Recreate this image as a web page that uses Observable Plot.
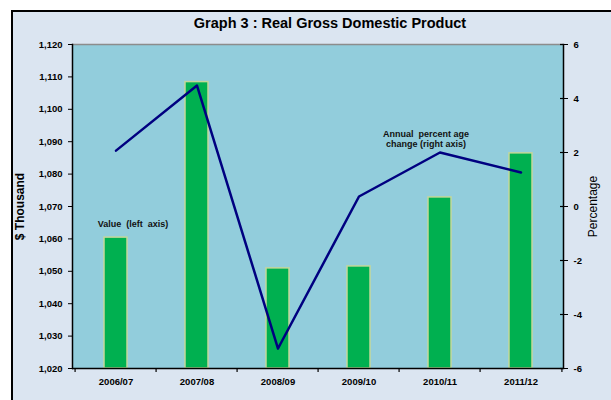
<!DOCTYPE html>
<html>
<head>
<meta charset="utf-8">
<script src="https://cdn.jsdelivr.net/npm/d3@7"></script>
<script src="https://cdn.jsdelivr.net/npm/@observablehq/plot@0.6"></script>
<style>
  html, body { margin: 0; padding: 0; background: #ffffff; }
  #wrap { position: relative; width: 611px; height: 400px; overflow: hidden; }
  #frame { position: absolute; left: 11px; top: 10px; width: 640px; height: 420px;
           border-left: 2px solid #000; border-top: 2px solid #000; background: #dbe5f1; }
  #chart { position: absolute; left: 0; top: 0; }
  #chart svg { background: transparent; }
  #chart text.title { letter-spacing: 0.9px; word-spacing: 2px; }
</style>
</head>
<body>
<div id="wrap"><div id="frame"></div><div id="chart"></div></div>
<script>
const years = ["2006/07", "2007/08", "2008/09", "2009/10", "2010/11", "2011/12"];
const values = [1060.4, 1108.4, 1050.9, 1051.5, 1072.8, 1086.4];
const pctChange = [2.07, 4.48, -5.26, 0.37, 2.0, 1.26];
const leftTicks = [1020, 1030, 1040, 1050, 1060, 1070, 1080, 1090, 1100, 1110, 1120];
const rightTicks = [-6, -4, -2, 0, 2, 4, 6];
const leftDomain = [1020, 1120];
const rightDomain = [-6, 6];

const W = 611, H = 400, ML = 72, MR = 48, MT = 44, MB = 32;
const halfStep = (W - ML - MR) / years.length / 2;

// map right-axis (percentage) values into left-axis units
const toLeft = v => leftDomain[0] + (v - rightDomain[0]) * (leftDomain[1] - leftDomain[0]) / (rightDomain[1] - rightDomain[0]);
const fromLeft = v => rightDomain[0] + (v - leftDomain[0]) * (rightDomain[1] - rightDomain[0]) / (leftDomain[1] - leftDomain[0]);

const barData = years.map((y, i) => ({year: y, value: values[i]}));
const lineData = years.map((y, i) => ({year: y, pct: toLeft(pctChange[i])}));

const font = "Arial, 'Liberation Sans', sans-serif";
const fmt = d3.format(",");
const tickLen = (leftDomain[1] - leftDomain[0]) / (H - MT - MB) * 4;

const chart = Plot.plot({
  width: W,
  height: H,
  marginLeft: ML,
  marginRight: MR,
  marginTop: MT,
  marginBottom: MB,
  style: {fontFamily: font, fontSize: "9px", fontWeight: "bold", color: "#000", background: "transparent"},
  x: {domain: years, paddingInner: 0.72, paddingOuter: 0.36, label: null},
  y: {domain: leftDomain, label: null},
  marks: [
    Plot.frame({fill: "#92cddc", stroke: null}),
    Plot.ruleY([leftDomain[1]], {stroke: "#8c8c8c", strokeWidth: 1.5}),
    Plot.barY(barData, {x: "year", y1: leftDomain[0], y2: "value", fill: "#00b050", stroke: "#c4d79b", strokeWidth: 1.5}),
    Plot.line(lineData, {x: "year", y: "pct", stroke: "#000080", strokeWidth: 2.5}),
    Plot.axisY(leftTicks, {anchor: "left", tickFormat: fmt, tickSize: 4, tickPadding: 6, stroke: "#000", fontWeight: "bold", fontSize: 9.5, label: null}),
    Plot.axisY(rightTicks.map(toLeft), {anchor: "right", tickFormat: d => String(Math.round(fromLeft(d))), tickSize: 4, tickPadding: 6, stroke: "#000", fontWeight: "bold", fontSize: 9.5, label: null}),
    // inner half of the crossing ticks on the right axis
    Plot.tickY(rightTicks.map(toLeft), {y: d => d, insetLeft: W - ML - MR - 3, stroke: "#000", strokeWidth: 1.2}),
    Plot.axisX({anchor: "bottom", tickSize: 0, tickPadding: 10, fontWeight: "bold", fontSize: 9.5, label: null}),
    // category boundary ticks on the x axis
    Plot.ruleX(years, {x: d => d, y1: leftDomain[0], y2: leftDomain[0] - tickLen, dx: -halfStep, stroke: "#000", strokeWidth: 1.2, clip: false}),
    Plot.ruleX([years[years.length - 1]], {x: d => d, y1: leftDomain[0], y2: leftDomain[0] - tickLen, dx: halfStep, stroke: "#000", strokeWidth: 1.2, clip: false}),
    // frame edges: left, right, bottom axis lines
    Plot.ruleY([leftDomain[0]], {stroke: "#000", strokeWidth: 1.5}),
    Plot.frame({anchor: "left", stroke: "#000", strokeWidth: 1.5}),
    Plot.frame({anchor: "right", stroke: "#000", strokeWidth: 1.5}),
    // title
    Plot.text(["Graph 3 : Real Gross Domestic Product"], {frameAnchor: "top", dy: -27, dx: 12, fontSize: 14.5, fontWeight: "bold", fill: "#000", className: "title"}),
    // annotations
    Plot.text(["Value  (left  axis)"], {x: () => years[0], y: () => 1064.5, dx: 17, fontSize: 9, fontWeight: "bold", fill: "#111"}),
    Plot.text(["Annual  percent age\nchange (right axis)"], {x: () => years[4], y: () => toLeft(2.52), dx: -14, fontSize: 9, fontWeight: "bold", fill: "#111", lineHeight: 1.2}),
    // axis titles
    Plot.text(["$ Thousand"], {frameAnchor: "left", dx: -52, rotate: -90, textAnchor: "middle", fontSize: 12, fontWeight: "bold", fill: "#000"}),
    Plot.text(["Percentage"], {frameAnchor: "right", dx: 30, rotate: -90, textAnchor: "middle", fontSize: 12, fontWeight: "normal", fill: "#000"})
  ]
});
document.getElementById("chart").appendChild(chart);
</script>
</body>
</html>
